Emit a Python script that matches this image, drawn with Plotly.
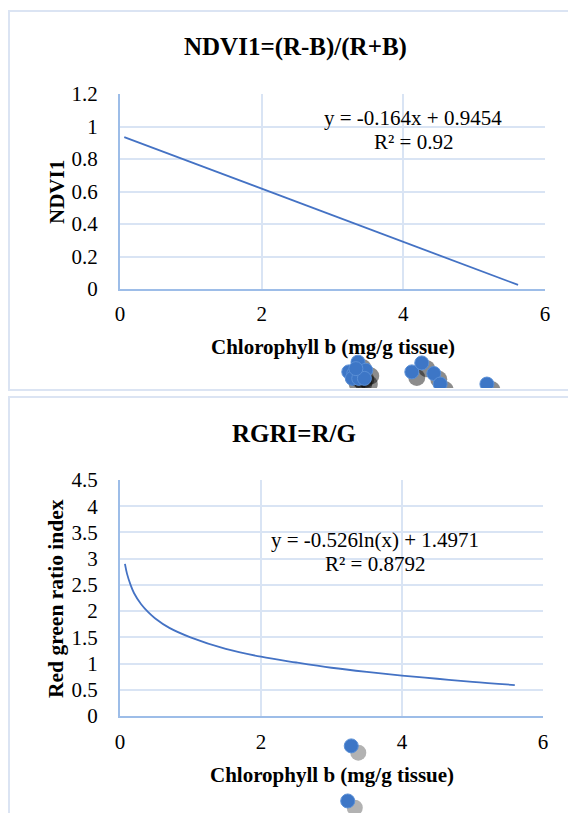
import plotly.graph_objects as go

# ---------------- data ----------------
# Panel 1: NDVI1 linear trendline (endpoints)
fit1_x = [0.06, 5.62]
fit1_y = [0.935, 0.025]
# Panel 2: RGRI logarithmic trendline
fit2_x = [0.07, 0.1, 0.15, 0.2, 0.3, 0.4, 0.5, 0.7, 1.0, 1.5, 2.0, 2.5, 3.0, 3.5, 4.0, 4.5, 5.0, 5.6]
fit2_y = [2.90, 2.71, 2.50, 2.34, 2.13, 1.98, 1.86, 1.68, 1.50, 1.28, 1.13, 1.02, 0.92, 0.84, 0.77, 0.71, 0.65, 0.59]

# Scatter markers that appear (mis-placed) below the plot areas
pts1_x = [3.36, 3.23, 3.30, 3.40, 3.47, 3.28, 3.37, 3.45, 3.33, 4.12, 4.26, 4.43, 4.52, 5.18]
pts1_y = [-0.45, -0.51, -0.52, -0.52, -0.50, -0.55, -0.55, -0.55, -0.49, -0.51, -0.455, -0.52, -0.585, -0.585]
pts2_x = [3.28, 3.23]
pts2_y = [-0.57, -1.62]

eq1 = ["y = -0.164x + 0.9454", "R² = 0.92"]
eq2 = ["y = -0.526ln(x) + 1.4971", "R² = 0.8792"]
titles = ["NDVI1=(R-B)/(R+B)", "RGRI=R/G"]
ytitles = ["NDVI1", "Red green ratio index"]
xtitle = "Chlorophyll b (mg/g tissue)"

W, H = 568, 813
FONT = "Liberation Serif, Times New Roman, serif"
LINE_C = "#4472C4"
GRID_C = "#d9e4f4"
AXIS_C = "#9dbde8"
BOX_C = "#dbe4f3"

def px(x):
    return x / W

def py(y):
    return 1 - y / H

# pixel geometry of plot areas
P1 = dict(l=120, r=545, t=94, b=289, ymax=1.2)
P2 = dict(l=120, r=543, t=480, b=716, ymax=4.5)
P1_ext_b = 388   # markers overlay extends down to here (clipped at chart box)
P2_ext_b = 813

fig = go.Figure()

mk = dict(size=14, color="#3d76c6", line=dict(width=1, color="#5a8fd6"))

sh_dx1, sh_dy1 = 0.07, -0.035
fig.add_trace(go.Scatter(x=[v + sh_dx1 for v in pts1_x], y=[v + sh_dy1 for v in pts1_y],
                         mode="markers", xaxis="x3", yaxis="y3",
                         marker=dict(size=17, color="rgba(0,0,0,0.45)", line=dict(width=0)),
                         showlegend=False, hoverinfo="skip"))
fig.add_trace(go.Scatter(x=pts1_x, y=pts1_y, mode="markers", xaxis="x3", yaxis="y3",
                         marker=mk, showlegend=False))
fig.add_trace(go.Scatter(x=fit1_x, y=fit1_y, mode="lines", xaxis="x", yaxis="y",
                         line=dict(color=LINE_C, width=1.8), showlegend=False))

sh_dx2, sh_dy2 = 0.1, -0.13
fig.add_trace(go.Scatter(x=[v + sh_dx2 for v in pts2_x], y=[v + sh_dy2 for v in pts2_y],
                         mode="markers", xaxis="x4", yaxis="y4",
                         marker=dict(size=16, color="rgba(0,0,0,0.3)", line=dict(width=0)),
                         showlegend=False, hoverinfo="skip"))
fig.add_trace(go.Scatter(x=pts2_x, y=pts2_y, mode="markers", xaxis="x4", yaxis="y4",
                         marker=mk, showlegend=False))
fig.add_trace(go.Scatter(x=fit2_x, y=fit2_y, mode="lines", xaxis="x2", yaxis="y2",
                         line=dict(color=LINE_C, width=1.8, shape="spline"), showlegend=False))

axis_common = dict(showgrid=True, gridcolor=GRID_C, gridwidth=1.5, zeroline=False,
                   showline=True, linecolor=AXIS_C, linewidth=2, automargin=False,
                   tickfont=dict(family=FONT, size=21, color="#000000"),
                   ticks="", fixedrange=True)
hidden = dict(visible=False, fixedrange=True, showgrid=False, zeroline=False, automargin=False)

def ext_min(P, ext_b):
    # lower range value so the overlay axis shares the panel's y scale
    return -(ext_b - P["b"]) / (P["b"] - P["t"]) * P["ymax"]

fig.update_layout(
    template="none",
    width=W, height=H, autosize=False,
    margin=dict(l=0, r=0, t=0, b=0, pad=0, autoexpand=False),
    paper_bgcolor="white", plot_bgcolor="rgba(0,0,0,0)",
    xaxis=dict(domain=[px(P1["l"]), px(P1["r"])], anchor="y", range=[0, 6], dtick=2,
               ticklabelstandoff=5, **axis_common),
    yaxis=dict(domain=[py(P1["b"]), py(P1["t"])], anchor="x", range=[0, P1["ymax"]], dtick=0.2,
               ticklabelstandoff=16, **axis_common),
    xaxis2=dict(domain=[px(P2["l"]), px(P2["r"])], anchor="y2", range=[0, 6], dtick=2,
                ticklabelstandoff=6, **axis_common),
    yaxis2=dict(domain=[py(P2["b"]), py(P2["t"])], anchor="x2", range=[0, P2["ymax"]], dtick=0.5,
                ticklabelstandoff=16, **axis_common),
    xaxis3=dict(domain=[px(P1["l"]), px(P1["r"])], anchor="y3", range=[0, 6], **hidden),
    yaxis3=dict(domain=[py(P1_ext_b), py(P1["t"])], anchor="x3",
                range=[ext_min(P1, P1_ext_b), P1["ymax"]], **hidden),
    xaxis4=dict(domain=[px(P2["l"]), px(P2["r"])], anchor="y4", range=[0, 6], **hidden),
    yaxis4=dict(domain=[py(P2_ext_b), py(P2["t"])], anchor="x4",
                range=[ext_min(P2, P2_ext_b), P2["ymax"]], **hidden),
    showlegend=False,
)

# chart-area boxes
fig.add_shape(type="rect", xref="paper", yref="paper", x0=px(9), x1=px(575), y0=py(390), y1=py(11),
              line=dict(color=BOX_C, width=2), layer="below")
fig.add_shape(type="rect", xref="paper", yref="paper", x0=px(9), x1=px(575), y0=py(830), y1=py(397),
              line=dict(color=BOX_C, width=2), layer="below")

ann = []
def txt(x, y, s, size, bold=False, angle=0):
    ann.append(dict(x=px(x), y=py(y), xref="paper", yref="paper", text=(f"<b>{s}</b>" if bold else s),
                    showarrow=False, xanchor="center", yanchor="middle", textangle=angle,
                    font=dict(family=FONT, size=size, color="#000000")))

txt(295, 47, titles[0], 25, bold=True)
txt(294, 433, titles[1], 25, bold=True)
txt(57, 192, ytitles[0], 21, bold=True, angle=-90)
txt(56, 598, ytitles[1], 21.5, bold=True, angle=-90)
txt(333, 347, xtitle, 21, bold=True)
txt(332, 775, xtitle, 21, bold=True)
txt(413, 118, eq1[0], 21)
txt(413, 142, eq1[1], 21)
txt(375, 540, eq2[0], 21)
txt(375, 564, eq2[1], 21)
fig.update_layout(annotations=ann)

fig.write_html("out.html", config={"displayModeBar": False},
               post_script="document.body.style.margin='0px';document.body.style.overflow='hidden';")
